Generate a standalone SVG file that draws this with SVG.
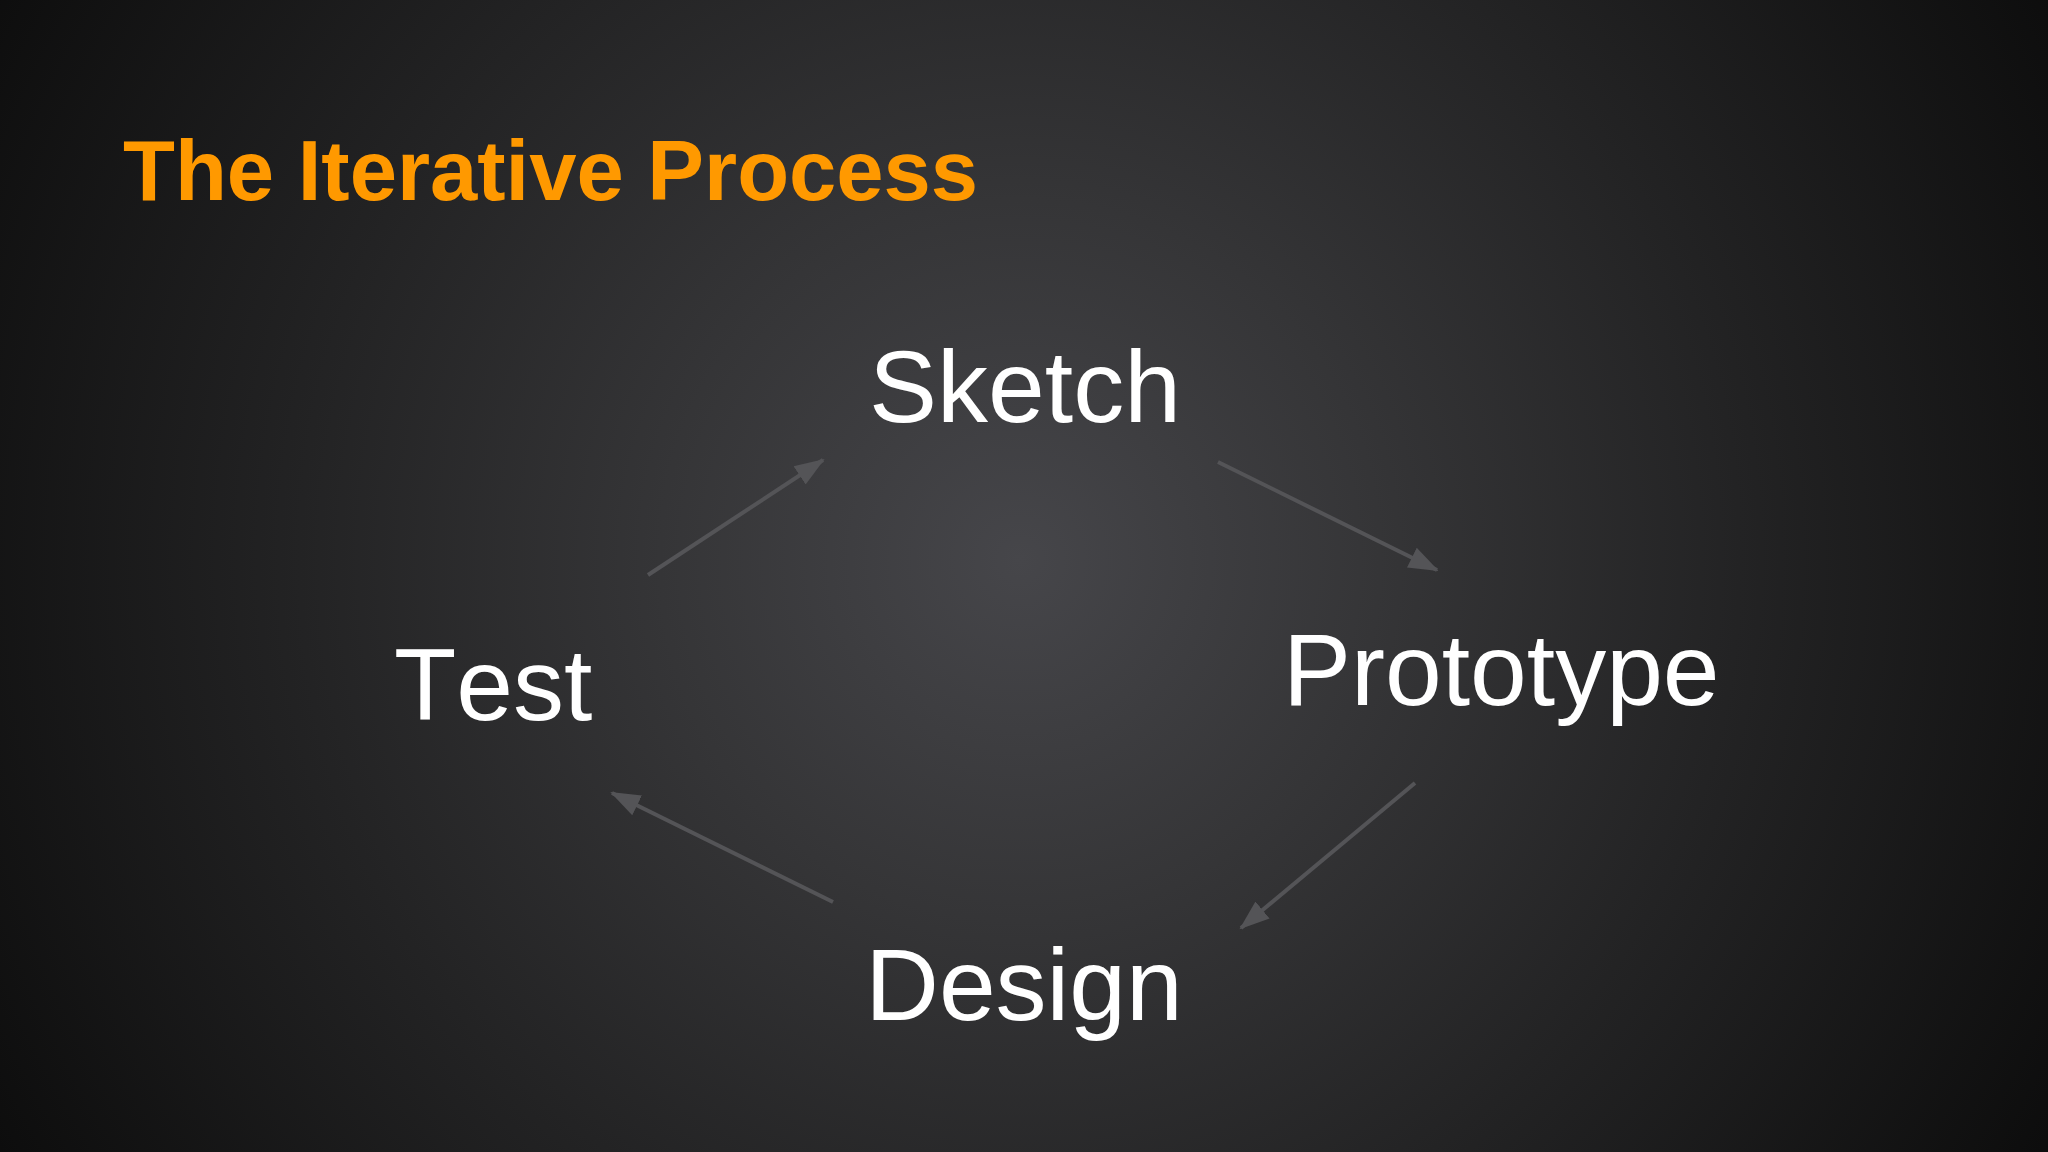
<svg xmlns="http://www.w3.org/2000/svg" width="2048" height="1152" viewBox="0 0 2048 1152">
  <defs>
    <radialGradient id="bg" gradientUnits="userSpaceOnUse" cx="1020" cy="560" r="1200">
      <stop offset="0" stop-color="#46464a"/>
      <stop offset="0.3" stop-color="#353537"/>
      <stop offset="0.6" stop-color="#232324"/>
      <stop offset="1" stop-color="#0c0c0c"/>
    </radialGradient>
    <marker id="arrow" markerUnits="userSpaceOnUse" markerWidth="32" markerHeight="26" refX="28" refY="13" orient="auto">
      <path d="M0,2 L30,13 L0,24 Z" fill="#545457"/>
    </marker>
    <style>
      .title { font-family: "Liberation Sans", Arial, sans-serif; font-weight: bold; font-size: 85px; fill: #FF9900; }
      .label { font-family: "Liberation Sans", Arial, sans-serif; font-size: 102px; fill: #FFFFFF; font-kerning: none; }
      .conn { stroke: #545457; stroke-width: 4; fill: none; marker-end: url(#arrow); }
    </style>
  </defs>
  <rect x="0" y="0" width="2048" height="1152" fill="url(#bg)"/>
  <text class="title" x="123" y="200">The Iterative Process</text>

  <g id="connectors">
    <line class="conn" x1="648" y1="575" x2="823" y2="460"/>
    <line class="conn" x1="1218" y1="462" x2="1437" y2="570"/>
    <line class="conn" x1="1415" y1="783" x2="1241" y2="928"/>
    <line class="conn" x1="833" y1="902" x2="612" y2="793"/>
  </g>

  <g id="sketch"><text class="label" x="1025" y="422" text-anchor="middle">Sketch</text></g>
  <g id="prototype"><text class="label" x="1283" y="705">Prototype</text></g>
  <g id="design"><text class="label" x="1024" y="1020" text-anchor="middle">Design</text></g>
  <g id="test"><text class="label" x="394" y="720">Test</text></g>
</svg>
